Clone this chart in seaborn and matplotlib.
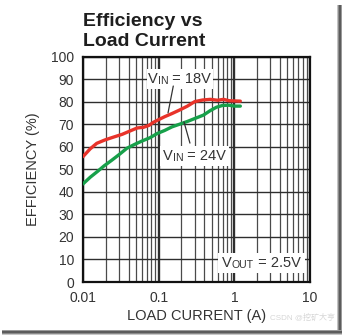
import matplotlib
matplotlib.use("Agg")
import numpy as np
import pandas as pd
import seaborn as sns
import matplotlib.pyplot as plt
from matplotlib.patches import Rectangle
from matplotlib.transforms import Bbox
from matplotlib.ticker import FixedLocator, LogLocator, NullFormatter

# ---- data -------------------------------------------------------------
cur_18v = [0.01, 0.0124, 0.0152, 0.0195, 0.025, 0.033, 0.042, 0.052, 0.063,
           0.075, 0.085, 0.10, 0.12, 0.15, 0.19, 0.24, 0.30, 0.38, 0.48,
           0.60, 0.72, 0.85, 1.0, 1.2]
eff_18v = [55.6, 59.0, 61.5, 63.0, 64.2, 65.5, 67.0, 68.3, 68.6,
           69.5, 70.8, 72.0, 73.3, 74.7, 76.3, 78.0, 80.0, 80.7, 81.0,
           80.6, 81.0, 80.4, 80.3, 80.2]

cur_24v = [0.01, 0.0125, 0.0155, 0.019, 0.024, 0.030, 0.038, 0.048, 0.060,
           0.077, 0.095, 0.12, 0.15, 0.19, 0.24, 0.30, 0.39, 0.48, 0.58,
           0.70, 0.85, 1.0, 1.2]
eff_24v = [43.5, 46.5, 49.0, 51.5, 54.0, 56.5, 59.3, 61.0, 62.5,
           64.0, 65.8, 67.2, 68.8, 70.0, 71.2, 72.5, 74.0, 76.0, 77.5,
           78.3, 78.4, 78.0, 78.0]

x_ticks = [0.01, 0.1, 1, 10]
x_tick_labels = ["0.01", "0.1", "1", "10"]
y_ticks = list(range(0, 101, 10))

RED = "#e8332a"
GREEN = "#17a04a"

# ---- figure -----------------------------------------------------------
sns.set_style("white")
plt.rcParams["font.family"] = ["Liberation Sans", "Noto Sans CJK SC", "DejaVu Sans"]

W, H = 342, 335
fig = plt.figure(figsize=(W / 100, H / 100), dpi=100)
ax = fig.add_axes([83 / W, 1 - 282 / H, 227 / W, 225.5 / H])
ax.set_xscale("log")

df18 = pd.DataFrame({"current": cur_18v, "eff": eff_18v})
df24 = pd.DataFrame({"current": cur_24v, "eff": eff_24v})
sns.lineplot(data=df18, x="current", y="eff", color=RED, lw=2.4, ax=ax, zorder=3)
sns.lineplot(data=df24, x="current", y="eff", color=GREEN, lw=2.4, ax=ax, zorder=3)

ax.set_xlim(0.01, 10)
ax.set_ylim(0, 100)
ax.xaxis.set_major_locator(FixedLocator(x_ticks))
ax.set_xticklabels(x_tick_labels)
ax.xaxis.set_minor_locator(LogLocator(base=10, subs=np.arange(2, 10)))
ax.xaxis.set_minor_formatter(NullFormatter())
ax.set_yticks(y_ticks)

ax.set_axisbelow(True)
ax.grid(which="major", axis="x", color="#2e2e2e", lw=1.7)
ax.grid(which="minor", axis="x", color="#4a4a4a", lw=0.9)
ax.grid(which="major", axis="y", color="#2e2e2e", lw=1.0)
ax.tick_params(which="both", length=0, pad=6.5, labelsize=10, colors="#333333")
for s in ax.spines.values():
    s.set_color("#111111")
    s.set_linewidth(1.6)

ax.set_xlabel("LOAD CURRENT (A)", fontsize=10.5, color="#333333")
ax.set_ylabel("EFFICIENCY (%)", fontsize=10.5, color="#333333")
ax.xaxis.set_label_coords(0.5, -0.12)
ax.yaxis.set_label_coords(-0.19, 0.5)

# ---- title ------------------------------------------------------------
fig.text(83 / W, 1 - 26 / H, "Efficiency vs", fontsize=14, fontweight="bold",
         color="#1e1e1e", va="baseline", ha="left")
fig.text(83 / W, 1 - 45.7 / H, "Load Current", fontsize=14, fontweight="bold",
         color="#1e1e1e", va="baseline", ha="left")


# ---- curve labels (V + small-caps suffix + value) --------------------
def voltage_label(x, y, name, value, size=10.5):
    first = ax.text(x, y, "V", fontsize=size, va="center", ha="left",
                    color="#333333", zorder=5)
    mid = ax.annotate(name, xy=(1, 0), xycoords=first, va="bottom", ha="left",
                      fontsize=size * 0.72, color="#333333", zorder=5,
                      annotation_clip=False)
    last = ax.annotate(" = " + value, xy=(1, 0), xycoords=mid, va="bottom",
                       ha="left", fontsize=size, color="#333333", zorder=5,
                       annotation_clip=False)
    return [first, mid, last]


labels = [
    (voltage_label(0.0723, 90.0, "IN", "18V"), 1.5, 3.0),
    (voltage_label(0.114, 55.9, "IN", "24V"), 3.0, 3.0),
    (voltage_label(0.686, 8.6, "OUT", "2.5V"), 4.0, 3.0),
]

# leader lines from labels to curves
ax.plot([0.156, 0.133], [86.9, 75.0], color="#333333", lw=0.9, zorder=4)
ax.plot([0.259, 0.216], [61.6, 71.0], color="#333333", lw=0.9, zorder=4)

fig.canvas.draw()
renderer = fig.canvas.get_renderer()
for arts, padx, pady in labels:
    bb = Bbox.union([a.get_window_extent(renderer) for a in arts])
    bb = Bbox.from_extents(bb.x0 - padx, bb.y0 - pady, bb.x1 + padx, bb.y1 + pady)
    bb_ax = bb.transformed(ax.transAxes.inverted())
    ax.add_patch(Rectangle((bb_ax.x0, bb_ax.y0), bb_ax.width, bb_ax.height,
                           transform=ax.transAxes, facecolor="white",
                           edgecolor="none", zorder=2.5, clip_on=False))

# ---- watermark and frame shadow --------------------------------------
fig.text(270 / W, 1 - 320 / H, "CSDN @挖矿大亨", fontsize=5.8, color="#d6d6d6",
         ha="left", va="baseline")

for px, col in [(337, "#c4c4c4"), (338, "#8a8a8a"), (339, "#5c5c5c"),
                (340, "#5c5c5c"), (341, "#9a9a9a")]:
    fig.add_artist(Rectangle((px / W, 0), 1 / W, (H - 5) / H,
                             transform=fig.transFigure, facecolor=col,
                             edgecolor="none"))
for py, col in [(330, "#9a9a9a"), (331, "#5c5c5c"), (332, "#5c5c5c"),
                (333, "#8a8a8a"), (334, "#c8c8c8")]:
    fig.add_artist(Rectangle((2 / W, 1 - (py + 1) / H), (W - 2) / W, 1 / H,
                             transform=fig.transFigure, facecolor=col,
                             edgecolor="none"))

fig.savefig("out.png", dpi=100)
